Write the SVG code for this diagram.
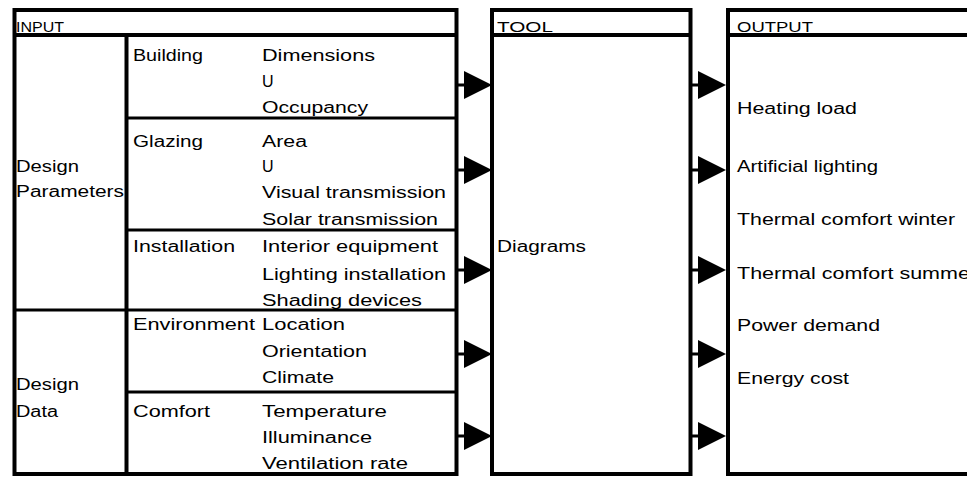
<svg xmlns="http://www.w3.org/2000/svg" width="967" height="477" viewBox="0 0 967 477">
<style>
.b{fill:none;stroke:#000;stroke-width:4}
.s{fill:none;stroke:#000;stroke-width:3}
text{font-family:"Liberation Sans",Arial,sans-serif;font-size:16px;fill:#000}
.h{font-size:15px}
.ah{fill:#000;stroke:none}
</style>
<defs>
<g id="arr"><line x1="-8" y1="0" x2="1" y2="0" stroke="#000" stroke-width="3"/><polygon points="0,-14 28,0 0,14" class="ah"/></g>
</defs>
<rect width="967" height="477" fill="#fff"/>
<g id="input">
<rect class="b" x="14.5" y="10" width="442" height="464"/>
<line class="b" x1="14.5" y1="35" x2="456.5" y2="35"/>
<line class="b" x1="126.5" y1="35" x2="126.5" y2="474"/>
<line class="s" x1="126.5" y1="118" x2="456.5" y2="118"/>
<line class="s" x1="126.5" y1="230" x2="456.5" y2="230"/>
<line class="s" x1="14.5" y1="310" x2="456.5" y2="310"/>
<line class="s" x1="126.5" y1="392" x2="456.5" y2="392"/>
<text class="h" x="16" y="32" textLength="48" lengthAdjust="spacingAndGlyphs">INPUT</text>
<text x="16" y="172" textLength="63" lengthAdjust="spacingAndGlyphs">Design</text>
<text x="16" y="197" textLength="108" lengthAdjust="spacingAndGlyphs">Parameters</text>
<text x="16" y="390" textLength="63" lengthAdjust="spacingAndGlyphs">Design</text>
<text x="16" y="417" textLength="42" lengthAdjust="spacingAndGlyphs">Data</text>
<text x="133" y="61" textLength="70" lengthAdjust="spacingAndGlyphs">Building</text>
<text x="133" y="147" textLength="70" lengthAdjust="spacingAndGlyphs">Glazing</text>
<text x="133" y="252" textLength="102" lengthAdjust="spacingAndGlyphs">Installation</text>
<text x="133" y="330" textLength="122" lengthAdjust="spacingAndGlyphs">Environment</text>
<text x="133" y="417" textLength="77" lengthAdjust="spacingAndGlyphs">Comfort</text>
<text x="262" y="61" textLength="113" lengthAdjust="spacingAndGlyphs">Dimensions</text>
<text x="262" y="87">U</text>
<text x="262" y="113" textLength="106" lengthAdjust="spacingAndGlyphs">Occupancy</text>
<text x="262" y="147" textLength="45" lengthAdjust="spacingAndGlyphs">Area</text>
<text x="262" y="172">U</text>
<text x="262" y="198" textLength="184" lengthAdjust="spacingAndGlyphs">Visual transmission</text>
<text x="262" y="225" textLength="176" lengthAdjust="spacingAndGlyphs">Solar transmission</text>
<text x="262" y="252" textLength="176" lengthAdjust="spacingAndGlyphs">Interior equipment</text>
<text x="262" y="280" textLength="184" lengthAdjust="spacingAndGlyphs">Lighting installation</text>
<text x="262" y="306" textLength="160" lengthAdjust="spacingAndGlyphs">Shading devices</text>
<text x="262" y="330" textLength="83" lengthAdjust="spacingAndGlyphs">Location</text>
<text x="262" y="357" textLength="105" lengthAdjust="spacingAndGlyphs">Orientation</text>
<text x="262" y="383" textLength="72" lengthAdjust="spacingAndGlyphs">Climate</text>
<text x="262" y="417" textLength="125" lengthAdjust="spacingAndGlyphs">Temperature</text>
<text x="262" y="443" textLength="110" lengthAdjust="spacingAndGlyphs">Illuminance</text>
<text x="262" y="469" textLength="146" lengthAdjust="spacingAndGlyphs">Ventilation rate</text>
</g>
<g id="tool">
<rect class="b" x="492" y="10" width="198.5" height="464"/>
<line class="b" x1="492" y1="35" x2="690.5" y2="35"/>
<text class="h" x="497" y="32" textLength="56" lengthAdjust="spacingAndGlyphs">TOOL</text>
<text x="497" y="252" textLength="89" lengthAdjust="spacingAndGlyphs">Diagrams</text>
</g>
<g id="output">
<path class="b" d="M980,10 H728 V474 H980"/>
<line class="b" x1="728" y1="35" x2="980" y2="35"/>
<text class="h" x="737" y="32" textLength="76" lengthAdjust="spacingAndGlyphs">OUTPUT</text>
<text x="737" y="114" textLength="120" lengthAdjust="spacingAndGlyphs">Heating load</text>
<text x="737" y="172" textLength="141" lengthAdjust="spacingAndGlyphs">Artificial lighting</text>
<text x="737" y="225" textLength="218" lengthAdjust="spacingAndGlyphs">Thermal comfort winter</text>
<text x="737" y="279" textLength="240" lengthAdjust="spacingAndGlyphs">Thermal comfort summer</text>
<text x="737" y="331" textLength="143" lengthAdjust="spacingAndGlyphs">Power demand</text>
<text x="737" y="384" textLength="112" lengthAdjust="spacingAndGlyphs">Energy cost</text>
</g>
<g id="connectors">
<use href="#arr" x="464" y="85"/>
<use href="#arr" x="464" y="170"/>
<use href="#arr" x="464" y="270"/>
<use href="#arr" x="464" y="354"/>
<use href="#arr" x="464" y="436"/>
<use href="#arr" x="698" y="85"/>
<use href="#arr" x="698" y="170"/>
<use href="#arr" x="698" y="270"/>
<use href="#arr" x="698" y="354"/>
<use href="#arr" x="698" y="436"/>
</g>
</svg>
